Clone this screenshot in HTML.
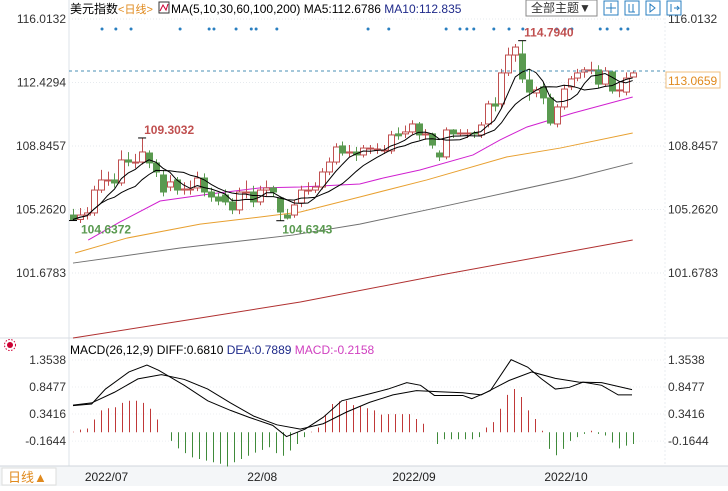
<!DOCTYPE html>
<html><head><meta charset="utf-8"><style>
body{margin:0;background:#fff;width:728px;height:486px;overflow:hidden;font-family:"Liberation Sans","Noto Sans CJK SC",sans-serif}
svg text{font-family:"Liberation Sans","Noto Sans CJK SC",sans-serif}
</style></head><body>
<svg id="c" width="728" height="486" xmlns="http://www.w3.org/2000/svg">
<rect x="0" y="0" width="728" height="486" fill="#fff"/>
<line x1="69" y1="0" x2="69" y2="466" stroke="#dde3ea"/>
<line x1="665" y1="14" x2="665" y2="466" stroke="#e8ecf0" stroke-dasharray="2,2"/>
<line x1="0" y1="338" x2="728" y2="338" stroke="#d8dde3"/>
<rect x="0" y="466" width="728" height="20" fill="#f4f6f8"/>
<line x1="0" y1="466" x2="728" y2="466" stroke="#d0d6dc"/>
<g id="grid"></g>
<g id="price"></g>
<g id="macd"></g>
<text x="70" y="13" font-size="12" fill="#000">美元指数<tspan fill="#e08a1e" font-size="11">&lt;日线&gt;</tspan></text>
<rect x="159" y="2" width="10" height="11" fill="#fff" stroke="#333"/>
<path d="M160,11 L163,5 L166,10 L168,4" stroke="#c03" fill="none"/>
<text x="171" y="13" font-size="12" fill="#000">MA(5,10,30,60,100,200) MA5:112.6786 <tspan fill="#1f2a8a">MA10:112.835</tspan></text>
<rect x="526" y="0" width="71" height="16" fill="#fff" stroke="#888"/>
<text x="531" y="12" font-size="12" fill="#333">全部主题▼</text>
<g fill="none" stroke="#2a7fc0">
<rect x="604" y="1" width="14" height="14"/><rect x="625" y="1" width="14" height="14"/><rect x="646" y="1" width="14" height="14"/><rect x="667" y="1" width="14" height="14"/>
<path d="M611,3v10M606,8h10M629,4v8h6M633,4v8M650,4v8l5,-4zM671,4v8M674,8h5l-2,-2M679,8l-2,2"/>
</g>
<line x1="69" y1="71" x2="665" y2="71" stroke="#4a8fb5" stroke-dasharray="3,3"/>
<rect x="666" y="72" width="54" height="16" fill="#fff" stroke="#f0c080"/>
<text x="668" y="85" font-size="12" fill="#e08a1e">113.0659</text>
<circle cx="10" cy="345" r="3" fill="#c03"/>
<circle cx="10" cy="345" r="5.5" fill="none" stroke="#c03" stroke-dasharray="1.5,1.5"/>
<text x="70" y="354" font-size="12" fill="#000">MACD(26,12,9) DIFF:0.6810 <tspan fill="#1f2a8a">DEA:0.7889</tspan> <tspan fill="#d040c0">MACD:-0.2158</tspan></text>
<rect x="2" y="468" width="54" height="17" fill="#fff" stroke="#ddd"/>
<text x="8" y="482" font-size="13" fill="#e08a1e">日线▲</text>
</svg>
<script>
const opens=[104.95,104.70,104.95,105.07,106.36,106.93,106.93,106.76,108.06,107.94,107.94,108.45,107.89,107.21,106.53,106.93,106.36,106.42,106.48,107.04,106.25,105.97,106.08,105.69,105.24,106.25,106.25,105.69,106.36,106.48,105.91,104.95,104.95,105.63,106.36,106.36,106.53,107.38,107.94,108.85,108.45,108.51,108.34,108.73,108.68,108.62,108.57,109.53,109.53,109.64,110.09,109.47,109.53,108.45,108.23,109.75,109.53,109.58,109.58,109.47,110.09,111.22,111.22,112.97,113.98,114.04,112.57,111.84,112.18,111.56,110.09,111.05,112.18,112.68,113.02,113.14,113.14,112.34,113.02,112.01,111.89,112.74];
const closes=[104.70,104.95,105.07,106.36,106.93,106.93,106.76,108.06,107.94,107.94,108.51,107.89,107.38,106.25,106.82,106.36,106.42,106.42,107.04,106.25,105.97,105.74,105.69,105.24,106.25,106.25,105.69,106.36,106.48,106.25,105.12,104.78,105.52,106.36,106.36,106.53,107.38,107.94,108.79,108.45,108.51,108.34,108.73,108.73,108.68,108.62,109.47,109.42,109.64,110.09,109.47,109.53,108.90,108.23,109.75,109.53,109.58,109.58,109.53,110.03,111.22,111.10,112.97,113.98,114.43,112.63,111.89,112.01,111.56,110.14,111.05,112.06,112.63,112.97,113.14,113.14,112.34,113.08,111.95,112.01,112.68,112.97];
const highs=[105.30,105.35,105.40,106.60,107.50,107.40,107.30,108.60,108.50,108.40,109.30,108.60,108.10,107.50,107.20,107.10,106.80,106.90,107.40,107.30,106.50,106.20,106.40,105.90,106.50,106.90,106.60,106.60,106.90,106.60,106.00,105.30,105.80,106.60,106.80,106.80,107.60,108.20,109.00,109.10,108.90,108.80,108.90,108.90,109.00,108.90,109.70,109.90,110.00,110.30,110.20,109.80,109.60,108.60,109.90,109.80,109.80,109.80,109.70,110.20,111.40,111.60,113.20,114.40,114.60,114.79,113.20,112.20,112.40,111.80,111.20,112.30,112.80,113.20,113.30,113.60,113.40,113.30,113.10,112.40,113.00,113.10];
const lows=[104.64,104.50,104.70,104.90,106.20,106.60,106.50,106.60,107.70,107.60,107.80,107.60,107.10,106.00,106.30,106.10,106.10,106.10,106.30,106.00,105.70,105.50,105.50,105.00,105.00,105.90,105.40,105.50,106.00,106.00,104.63,104.70,104.80,105.40,106.10,106.20,106.40,107.20,107.80,108.30,108.20,108.00,108.20,108.40,108.40,108.40,108.40,109.20,109.30,109.50,109.20,109.20,108.70,108.00,108.10,109.30,109.40,109.30,109.30,109.30,109.90,110.80,111.00,112.80,113.60,112.40,111.40,111.60,111.20,110.00,109.90,110.90,112.00,112.50,112.70,112.90,112.10,112.20,111.80,111.60,111.70,112.80];
const ma30Idx=[2.2,6.8,12.6,19.8,27.1,32.9,41.5,44.9,50.2,57.9,61.8,65.7,72.4,81];
const ma30Val=[103.54,104.56,105.74,106.14,106.48,106.53,106.70,107.04,107.49,108.34,109.19,109.92,110.71,111.61];
const ma60Idx=[0.3,7.8,18.4,27.1,32.9,41.5,51.2,62.8,70.5,81];
const ma60Val=[102.81,103.65,104.44,104.84,105.12,105.97,106.93,108.23,108.73,109.58];
const ma100Idx=[0,15.5,31.8,41.5,54.6,72.4,81];
const ma100Val=[102.24,103.09,103.82,104.44,105.52,107.04,107.89];
const ma200Idx=[0,18.4,32.9,53.1,81];
const ma200Val=[98.01,99.14,100.04,101.56,103.54];
const histVals=[0.01,0.05,0.07,0.24,0.41,0.45,0.47,0.55,0.59,0.59,0.55,0.44,0.24,0,-0.16,-0.30,-0.39,-0.47,-0.50,-0.53,-0.56,-0.59,-0.64,-0.56,-0.50,-0.44,-0.38,-0.33,-0.28,-0.39,-0.44,-0.34,-0.22,-0.09,0.01,0.09,0.33,0.53,0.58,0.59,0.51,0.49,0.45,0.41,0.33,0.34,0.34,0.34,0.34,0.25,0.16,0,-0.22,-0.13,-0.13,-0.13,-0.13,-0.13,-0.09,0.09,0.19,0.44,0.70,0.81,0.66,0.41,0.25,0.03,-0.31,-0.43,-0.31,-0.16,-0.09,-0.03,0.03,-0.03,-0.06,-0.19,-0.30,-0.25,-0.22];
const diffIdx=[0,2.7,4.7,8.1,10.7,12.4,16.1,19.5,22.8,25.5,28.9,30.9,33.6,36.2,38.9,42.9,45.6,48.3,50.3,52.3,56.4,57.7,60.4,63.4,65.8,67.8,69.8,71.8,73.8,76.5,78.9,80.9];
const diffVal=[0.50,0.53,0.81,1.13,1.26,1.16,0.88,0.59,0.41,0.28,0.13,-0.08,0.06,0.28,0.59,0.72,0.81,0.93,0.88,0.69,0.69,0.63,0.78,1.36,1.22,1.00,0.81,0.84,0.94,0.88,0.70,0.70];
const deaIdx=[0,2.7,6.0,9.4,12.8,16.1,19.5,22.8,26.2,29.5,32.9,36.2,39.6,42.9,46.3,49.7,53.0,56.4,59.1,63.1,66.4,69.8,73.2,76.5,80.9];
const deaVal=[0.51,0.55,0.75,1.00,1.08,0.99,0.81,0.55,0.30,0.14,0.06,0.16,0.38,0.56,0.70,0.78,0.76,0.74,0.70,0.97,1.13,1.01,0.94,0.93,0.80];
const priceTicks=[116.0132,112.4294,108.8457,105.2620,101.6783];
const macdTicks=[1.3538,0.8477,0.3416,-0.1644];
const dateLabels=["2022/07","22/08","2022/09","2022/10"];
const dateIdx=[2.0,25.5,46.5,68.5];
const markerDots=[4.2,6.2,8.4,15.5,19.7,20.4,23.6,25.8,26.5,29.5,42.7,45.7,54.0,56.0,57.0,58.0,60.9,63.1,65.1,70.0,71.2,72.2,76.3,77.3,79.3,80.3];

const NS='http://www.w3.org/2000/svg';
function X(i){return 73+i*6.91;}
function Y(v){return 19+(116.0132-v)*17.72;}
function MX(i){return 73+i*(560/80);}
function MY(v){return 432.3-v*53.4;}
function mk(tag,at,parent){const e=document.createElementNS(NS,tag);for(const k in at)e.setAttribute(k,at[k]);document.getElementById(parent).appendChild(e);return e;}
priceTicks.forEach((t,k)=>{
  const l=mk('line',{x1:69,x2:665,y1:Y(t),y2:Y(t),stroke:'#e6eaee','stroke-dasharray':'1,2'},'grid');
  
  
  const a=mk('text',{x:66,y:Y(t)+4,'font-size':12,fill:'#333','text-anchor':'end'},'grid');a.textContent=t.toFixed(4);
  
  
  if(k!==1){const b=mk('text',{x:668,y:Y(t)+4,'font-size':12,fill:'#333'},'grid');b.textContent=t.toFixed(4);
  
  }
});
macdTicks.forEach(t=>{
  const l=mk('line',{x1:69,x2:665,y1:MY(t),y2:MY(t),stroke:'#eceff2','stroke-dasharray':'1,2'},'grid');
  
  
  const a=mk('text',{x:66,y:MY(t)+4,'font-size':12,fill:'#333','text-anchor':'end'},'grid');a.textContent=t.toFixed(4);
  
  
  const b=mk('text',{x:668,y:MY(t)+4,'font-size':12,fill:'#333'},'grid');b.textContent=t.toFixed(4);
  
  
});
dateLabels.forEach((d,k)=>{
  const a=mk('text',{x:X(dateIdx[k])-2,y:481,'font-size':12,fill:'#222'},'grid');a.textContent=d;
  
  
});
markerDots.forEach(i=>{
  const c=mk('circle',{cx:X(i),cy:29,r:1.5,fill:'#2a7fc0'},'grid');
  
  
});
function smooth(idx,val,color,name){
  const p=idx.map((i,k)=>X(i)+','+Y(val[k])).join(' ');
  const l=mk('polyline',{points:p,fill:'none',stroke:color,'stroke-width':1},'price');
  
  
}
smooth(ma200Idx,ma200Val,'#b03030','ma200-line');
smooth(ma100Idx,ma100Val,'#707070','ma100-line');
smooth(ma60Idx,ma60Val,'#e8a030','ma60-line');
smooth(ma30Idx,ma30Val,'#d020d0','ma30-line');
function maLine(n,name){
  const pts=closes.map((c,i)=>{const s=closes.slice(Math.max(0,i-n+1),i+1);return X(i)+','+Y(s.reduce((a,b)=>a+b,0)/s.length);}).join(' ');
  const l=mk('polyline',{points:pts,fill:'none',stroke:'#000','stroke-width':1},'price');
  
  
}
closes.forEach((c,i)=>{
  const o=opens[i],up=c>=o,col=up?'#c05050':'#5a9a50',x=Math.round(X(i))+0.5;
  const w=mk('line',{x1:x,x2:x,y1:Y(highs[i]),y2:Y(lows[i]),stroke:col},'price');
  
  
  const t=Y(Math.max(o,c)),h=Math.max(1,Math.abs(Y(o)-Y(c)));
  const r=mk('rect',{x:x-3,y:t,width:6,height:h,fill:up?'#fff':col,stroke:col},'price');
  
  
});
maLine(5,'ma5-line');maLine(10,'ma10-line');
[[0,lows[0],'#5a9a50',8,Y(lows[0])+13,'104.6372'],[10,highs[10],'#c05050',2,Y(highs[10])-4,'109.3032'],[30,lows[30],'#5a9a50',2,Y(lows[30])+13,'104.6343'],[65,highs[65],'#c05050',2,Y(highs[65])-4,'114.7940']].forEach(a=>{
  const t=mk('text',{x:X(a[0])+a[3],y:a[4],'font-size':12,'font-weight':'bold',fill:a[2]},'price');t.textContent=a[5];
  
  
  mk('path',{d:`M${X(a[0])-4},${Y(a[1])}h8`,stroke:'#000'},'price');
});
histVals.forEach((v,i)=>{
  const x=Math.round(MX(i))+0.5;
  const l=mk('line',{x1:x,x2:x,y1:MY(0),y2:MY(v),stroke:v>=0?'#c03838':'#3f8a3a'},'macd');
  
  
});
function mline(idx,val,name){
  const l=mk('polyline',{points:idx.map((i,k)=>X(i)+','+MY(val[k])).join(' '),fill:'none',stroke:'#000'},'macd');
  
  
}
mline(diffIdx,diffVal,'diff-line');mline(deaIdx,deaVal,'dea-line');
</script>
</body></html>
